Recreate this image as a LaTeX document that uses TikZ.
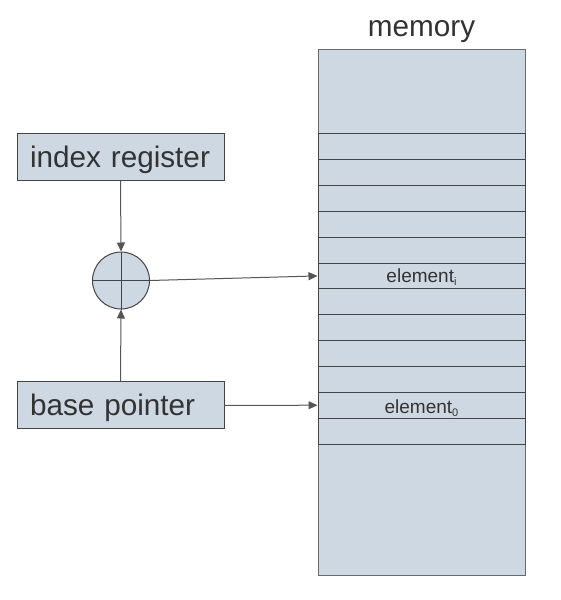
\documentclass[tikz,border=0pt]{standalone}
\usepackage{fontspec}
\setmainfont{Liberation Sans}
\usetikzlibrary{arrows.meta}
\definecolor{boxfill}{HTML}{CED8E2}
\definecolor{boxline}{HTML}{454545}
\definecolor{txt}{HTML}{333333}
\definecolor{arrline}{HTML}{555555}
\newcommand{\lowsub}[1]{\raisebox{-3pt}{\fontsize{11}{12}\selectfont #1}}
\tikzset{
  regbox/.style={draw=boxline, fill=boxfill, line width=1pt, rectangle,
    text width=181pt, align=left, inner xsep=13pt, inner ysep=0pt,
    minimum height=47pt, text height=21pt, text depth=0pt,
    font=\fontsize{29.7}{32}\selectfont, text=txt},
  membox/.style={draw=boxline!80, fill=boxfill, line width=1pt, rectangle,
    minimum width=207pt, minimum height=526pt, inner sep=0pt},
  cell/.style={draw=boxline, line width=1pt, rectangle, minimum width=207pt,
    minimum height=25.86pt, inner sep=0pt, text=txt,
    font=\fontsize{19}{20}\selectfont},
  sumnode/.style={draw=boxline, fill=boxfill, line width=1pt, circle,
    minimum size=57pt, inner sep=0pt},
  arr/.style={draw=arrline, line width=1pt, -{Triangle[length=9pt,width=8pt]}, color=arrline},
  title/.style={font=\fontsize{29.7}{32}\selectfont, text=txt, inner sep=0pt}
}
\begin{document}
\begin{tikzpicture}[x=1pt,y=-1pt]
\useasboundingbox (0,0) rectangle (560,600);
% memory
\node[membox] (mem) at (421.5,312) {};
\node[title, anchor=base] (memlabel) at (421.5,36) {memory};
\node[cell] (c1) at (421.5,146.63) {};
\node[cell] (c2) at (421.5,172.49) {};
\node[cell] (c3) at (421.5,198.35) {};
\node[cell] (c4) at (421.5,224.21) {};
\node[cell] (c5) at (421.5,250.07) {};
\node[cell, text height=14pt, text depth=1.6pt] (c6) at (421.5,275.93) {element\lowsub{i}};
\node[cell] (c7) at (421.5,301.79) {};
\node[cell] (c8) at (421.5,327.65) {};
\node[cell] (c9) at (421.5,353.51) {};
\node[cell] (c10) at (421.5,379.37) {};
\node[cell, text height=16pt, text depth=0.4pt] (c11) at (421.5,405.23) {element\lowsub{0}};
\node[cell] (c12) at (421.5,431.09) {};
% registers
\node[regbox] (ir) at (120.5,157) {index register};
\node[regbox] (bp) at (120.5,405.3) {base pointer};
% adder
\node[sumnode] (sum) at (121,280.5) {};
\draw[boxline, line width=1pt] (sum.north) -- (sum.south) (sum.west) -- (sum.east);
% connectors
\draw[arr] (ir.south) -- (sum.north);
\draw[arr] (bp.north) -- (sum.south);
\draw[arr] (sum.east) -- (c6.west);
\draw[arr] (bp.east) -- (c11.west);
\end{tikzpicture}
\end{document}
